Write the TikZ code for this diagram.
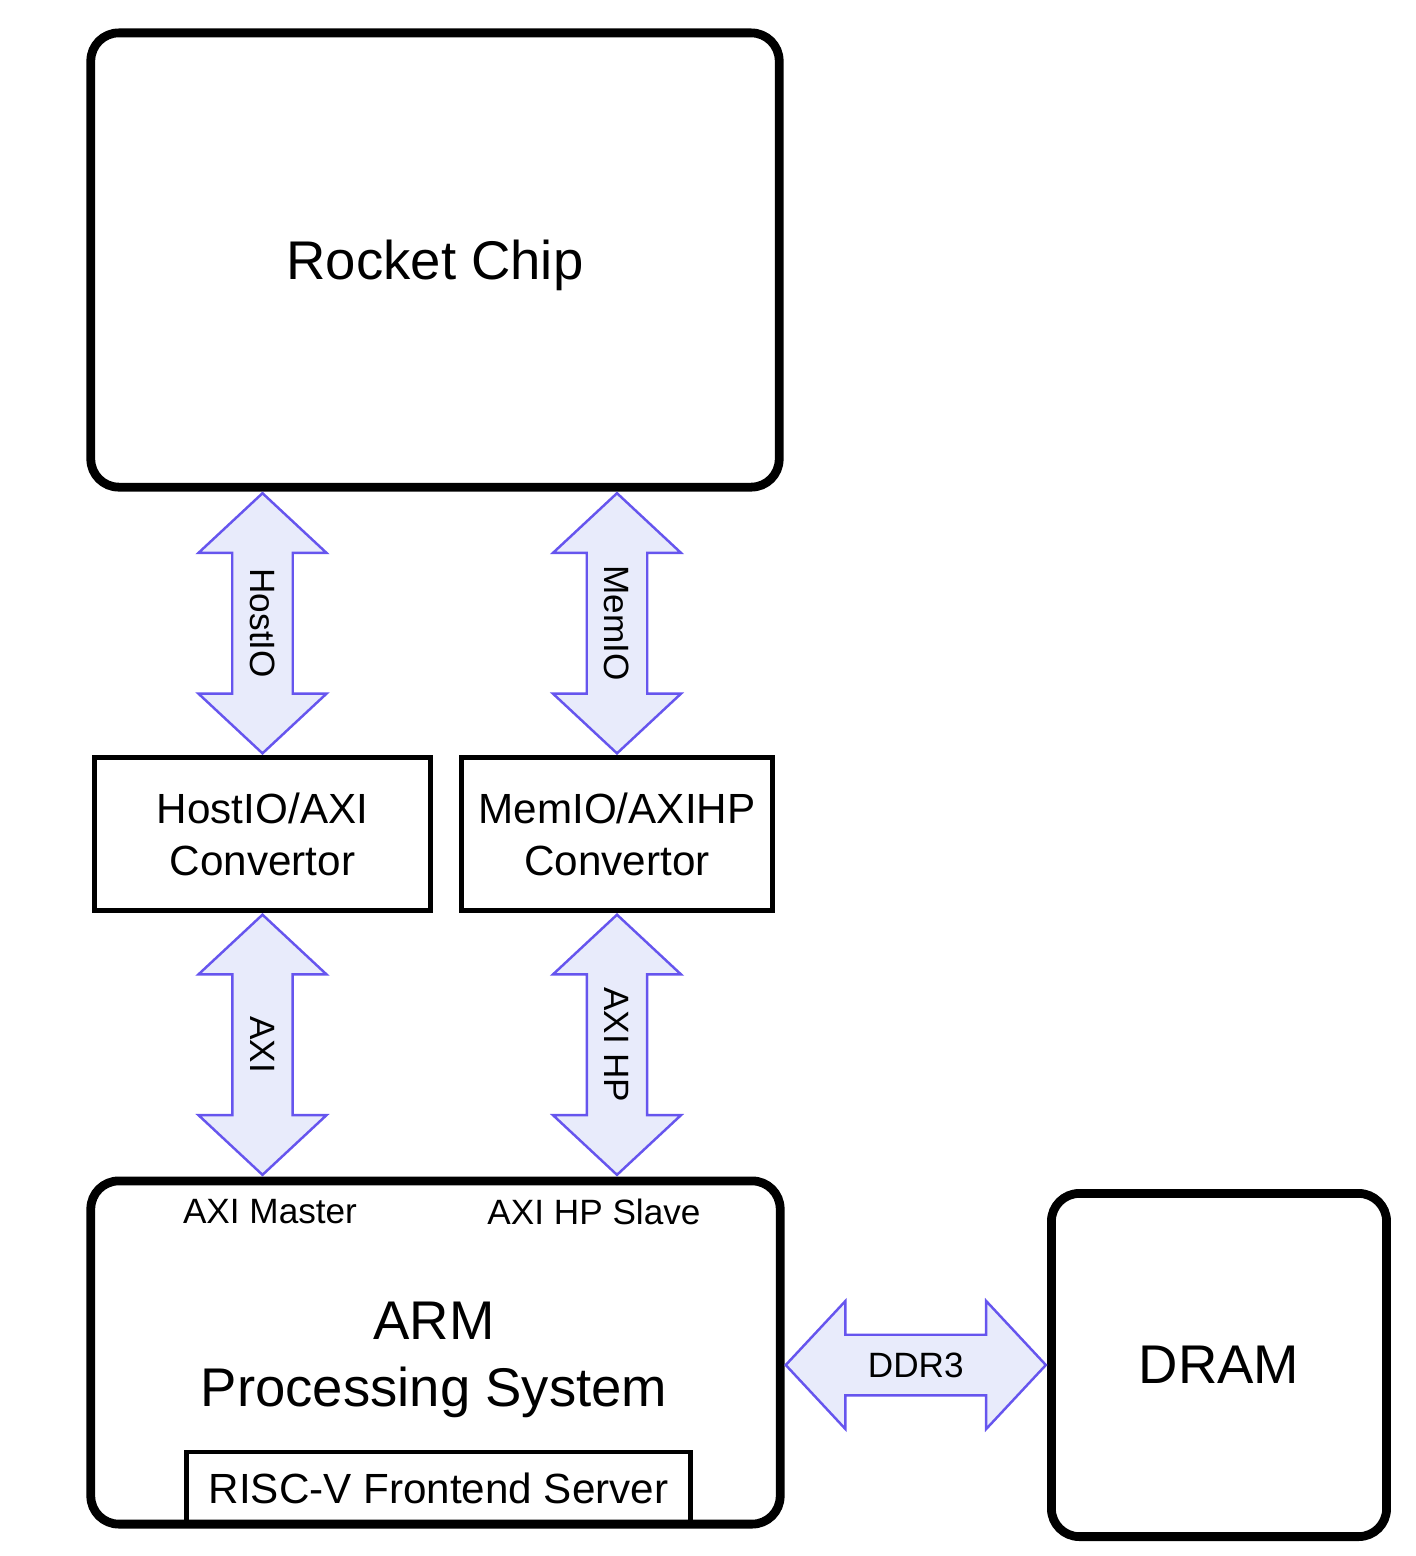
\documentclass[tikz,border=0pt]{standalone}
\usepackage{fontspec}
\setmainfont{Liberation Sans}
\usetikzlibrary{shapes.arrows,calc}
\definecolor{busline}{RGB}{102,85,238}
\definecolor{busfill}{RGB}{232,235,251}
\begin{document}
\begin{tikzpicture}[x=0.01cm, y=-0.01cm,
    bigbox/.style={draw, line width=2.5pt, rounded corners=0.28cm, align=center, font=\fontsize{15.5}{19}\selectfont},
    convbox/.style={draw, line width=1.4pt, align=center, minimum height=1.53cm, font=\fontsize{12}{14.8}\selectfont},
    bus/.style={shape=double arrow, draw=busline, fill=busfill, line width=0.7pt, inner xsep=0pt, inner ysep=0.15cm,
      minimum height=2.6cm, minimum width=1.28cm, double arrow head extend=0.32cm,
      double arrow tip angle=94, font=\fontsize{10}{12}\selectfont},
    portlabel/.style={font=\fontsize{10}{12}\selectfont}]
        \useasboundingbox (0,0) rectangle (1416,1556);

        % Box for Rocket Chip
        \node[bigbox, text depth=0pt, minimum width=6.88cm, minimum height=4.54cm] (rocket) at (435,260) {Rocket Chip};

        % Convertor boxes
        \node[convbox, minimum width=3.36cm] (hostconv) at (262.5,834) {HostIO/AXI\\Convertor};
        \node[convbox, minimum width=3.11cm] (memconv) at (617,834) {MemIO/AXIHP\\Convertor};

        % Box for ARM processing system
        \node[bigbox, minimum width=6.89cm, minimum height=3.43cm] (arm) at (435.5,1352.5) {};
        \node[align=center, font=\fontsize{15.5}{19}\selectfont] (armtext) at (434,1360) {ARM\\Processing System};
        \node[draw, line width=1.4pt, minimum width=5.04cm, minimum height=0.72cm,
          font=\fontsize{12}{14}\selectfont] (frontend) at (438.5,1488) {RISC-V Frontend Server};
        \node[portlabel] (master) at (270,1212) {AXI Master};
        \node[portlabel] (slave) at (594,1212) {AXI HP Slave};

        % Box for DRAM
        \node[bigbox, minimum width=3.35cm, minimum height=3.43cm] (dram) at (1219,1365) {DRAM};

        % Buses between the boxes
        \node[bus, rotate=-90] (hostio) at ($(hostconv.north |- rocket.south)!0.5!(hostconv.north)$) {HostIO};
        \node[bus, rotate=-90] (memio) at ($(memconv.north |- rocket.south)!0.5!(memconv.north)$) {MemIO};
        \node[bus, rotate=-90] (axi) at ($(hostconv.south)!0.5!(hostconv.south |- arm.north)$) {AXI};
        \node[bus, rotate=-90] (axihp) at ($(memconv.south)!0.5!(memconv.south |- arm.north)$) {AXI HP};
        \node[bus] (ddr) at ($(arm.east |- dram.west)!0.5!(dram.west)$) {DDR3};
\end{tikzpicture}
\end{document}
